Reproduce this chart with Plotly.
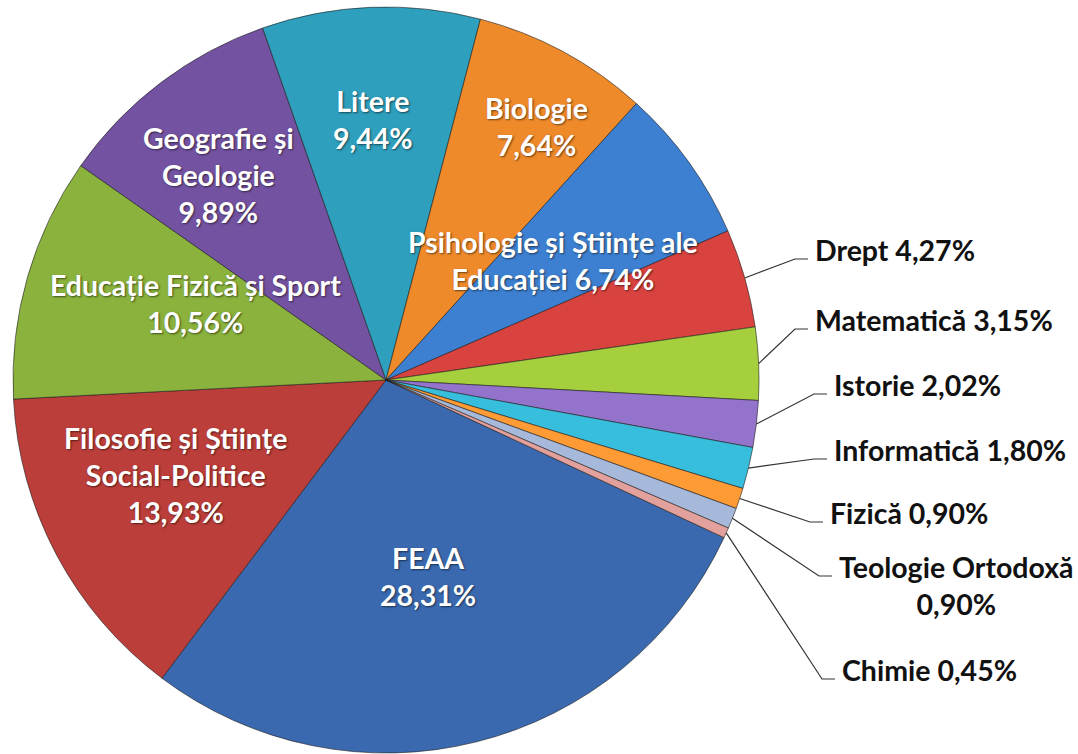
import math
import plotly.graph_objects as go

# ---- data -------------------------------------------------------------
faculties = [
    "FEAA",
    "Filosofie și Științe Social-Politice",
    "Educație Fizică și Sport",
    "Geografie și Geologie",
    "Litere",
    "Biologie",
    "Psihologie și Științe ale Educației",
    "Drept",
    "Matematică",
    "Istorie",
    "Informatică",
    "Fizică",
    "Teologie Ortodoxă",
    "Chimie",
]
shares = [28.31, 13.93, 10.56, 9.89, 9.44, 7.64, 6.74,
          4.27, 3.15, 2.02, 1.80, 0.90, 0.90, 0.45]

# how each label text is broken into lines (text, separator before the %)
label_text = {
    "FEAA": ("FEAA", "<br>"),
    "Filosofie și Științe Social-Politice": ("Filosofie și Științe<br>Social-Politice", "<br>"),
    "Educație Fizică și Sport": ("Educație Fizică și Sport", "<br>"),
    "Geografie și Geologie": ("Geografie și<br>Geologie", "<br>"),
    "Litere": ("Litere", "<br>"),
    "Biologie": ("Biologie", "<br>"),
    "Psihologie și Științe ale Educației": ("Psihologie și Științe ale<br>Educației", " "),
    "Drept": ("Drept", " "),
    "Matematică": ("Matematică", " "),
    "Istorie": ("Istorie", " "),
    "Informatică": ("Informatică", " "),
    "Fizică": ("Fizică", " "),
    "Teologie Ortodoxă": ("Teologie Ortodoxă", "<br>"),
    "Chimie": ("Chimie", " "),
}

# ---- styling ----------------------------------------------------------
W, H = 1078, 754
CX, CY, R = 386, 380, 373          # pie centre and radius in pixels
ROTATION = 115                      # start angle of the first slice (deg, clockwise from top)

colors = ["#3A69B0", "#BC3E3A", "#8AB23C", "#7352A1", "#2E9FBD", "#EE8A2A",
          "#3D7FD0", "#D8433F", "#A6CF3E", "#9373CC", "#38BEDD", "#FF9B35",
          "#A7B9DA", "#E2A19D"]

FONT = "Lato, 'Open Sans', 'DejaVu Sans', sans-serif"
FS = 28.5

# inside labels: (radial fraction of R, angle nudge in degrees)
inside_pos = {
    "FEAA": (0.54, 2.0),
    "Filosofie și Științe Social-Politice": (0.62, 3.7),
    "Educație Fizică și Sport": (0.55, 5.8),
    "Geografie și Geologie": (0.71, -2.0),
    "Litere": (0.70, -0.5),
    "Biologie": (0.79, 2.2),
    "Psihologie și Științe ale Educației": (0.55, 0.0),
}

# outside labels: text left edge x and centre y of the first line (pixels)
outside_pos = {
    "Drept": (813, 250),
    "Matematică": (813, 320),
    "Istorie": (832, 385),
    "Informatică": (832, 450),
    "Fizică": (828, 513),
    "Teologie Ortodoxă": (837, 567),
    "Chimie": (840, 670),
}


def px(x):
    return x / W


def py(y):
    return 1 - y / H


def fmt(v):
    return f"{v:.2f}".replace(".", ",") + "%"


fig = go.Figure(go.Pie(
    labels=faculties,
    values=shares,
    sort=False,
    direction="clockwise",
    rotation=ROTATION,
    marker=dict(colors=colors, line=dict(color="rgba(30,30,30,0.6)", width=1)),
    textinfo="none",
    hoverinfo="label+percent",
    domain=dict(x=[px(CX - R), px(CX + R)], y=[py(CY + R), py(CY - R)]),
    showlegend=False,
))

annotations = []
shapes = []
total = sum(shares)
start = ROTATION
for name, v in zip(faculties, shares):
    span = 360 * v / total
    mid = start + span / 2
    start += span
    body, sep = label_text[name]
    text = f"<b>{body}{sep}{fmt(v)}</b>"
    if name in inside_pos:
        frac, nudge = inside_pos[name]
        a = math.radians(mid + nudge)
        x = CX + frac * R * math.sin(a)
        y = CY - frac * R * math.cos(a)
        annotations.append(dict(
            x=px(x), y=py(y), xref="paper", yref="paper", text=text,
            showarrow=False, xanchor="center", yanchor="middle", align="center",
            font=dict(family=FONT, size=FS, color="#FFFFFF",
                      shadow="1px 1px 2px rgba(0,0,0,0.55)"),
        ))
    else:
        tx, ty = outside_pos[name]
        line_h = FS * 1.3
        annotations.append(dict(
            x=px(tx), y=py(ty - line_h / 2), xref="paper", yref="paper", text=text,
            showarrow=False, xanchor="left", yanchor="top", align="center",
            font=dict(family=FONT, size=FS, color="#111111"),
        ))
        a = math.radians(mid)
        sx = CX + R * math.sin(a)
        sy = CY - R * math.cos(a)
        ex, ey = tx - 18, ty + 9
        hx = tx - 5
        shapes.append(dict(
            type="path", xref="paper", yref="paper",
            path=f"M {px(sx)},{py(sy)} L {px(ex)},{py(ey)} L {px(hx)},{py(ey)}",
            line=dict(color="#333333", width=1.2),
        ))

fig.update_layout(
    width=W, height=H,
    margin=dict(l=0, r=0, t=0, b=0),
    paper_bgcolor="white",
    plot_bgcolor="white",
    annotations=annotations,
    shapes=shapes,
)

fig.write_html("out.html")
